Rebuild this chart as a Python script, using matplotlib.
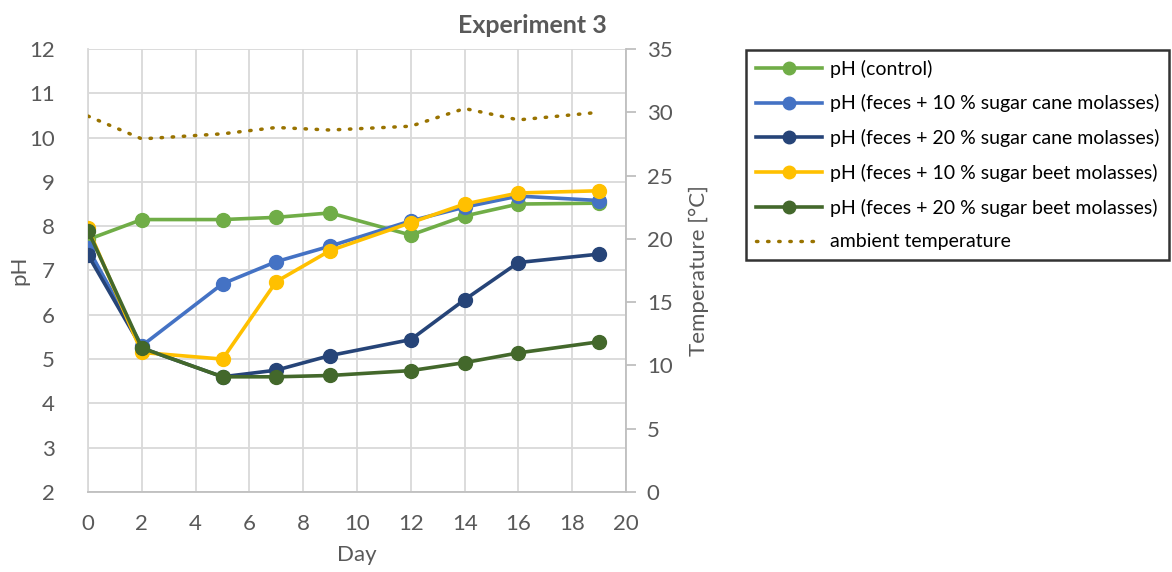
import matplotlib
matplotlib.use('Agg')
import matplotlib.pyplot as plt

plt.rcParams['font.family'] = ['Lato', 'DejaVu Sans']

days = [0, 2, 5, 7, 9, 12, 14, 16, 19]
ph_control = [7.7, 8.15, 8.15, 8.2, 8.3, 7.8, 8.23, 8.5, 8.52]
ph_cane10 = [7.5, 5.3, 6.7, 7.2, 7.55, 8.12, 8.43, 8.68, 8.58]
ph_cane20 = [7.35, 5.25, 4.6, 4.75, 5.08, 5.44, 6.34, 7.18, 7.37]
ph_beet10 = [7.95, 5.15, 5.0, 6.75, 7.45, 8.08, 8.5, 8.75, 8.8]
ph_beet20 = [7.9, 5.25, 4.6, 4.6, 4.63, 4.74, 4.92, 5.14, 5.39]
temperature = [29.7, 27.9, 28.3, 28.8, 28.6, 28.9, 30.3, 29.4, 30.0]

labels = ['pH (control)',
          'pH (feces + 10 % sugar cane molasses)',
          'pH (feces + 20 % sugar cane molasses)',
          'pH (feces + 10 % sugar beet molasses)',
          'pH (feces + 20 % sugar beet molasses)']
colors = ['#70AD47', '#4472C4', '#264478', '#FFC000', '#43682B']
temp_label = 'ambient temperature'
temp_color = '#997300'

txt = '#595959'
grid = '#D9D9D9'

fig = plt.figure(figsize=(11.72, 5.72), dpi=100)
ax = fig.add_axes([0.0751, 0.1399, 0.4590, 0.7744])
ax2 = ax.twinx()

handles = []
for series, lab, c in zip([ph_control, ph_cane10, ph_cane20, ph_beet10, ph_beet20], labels, colors):
    h, = ax.plot(days, series, color=c, lw=2.6, marker='o', markersize=10, label=lab, zorder=3)
    handles.append(h)

ht, = ax2.plot(days, temperature, color=temp_color, lw=2.5, linestyle=(0, (0.4, 2.8)),
               dash_capstyle='round', label=temp_label)
handles.append(ht)

ax.set_xlim(0, 20)
ax.set_ylim(2, 12)
ax.set_xticks(range(0, 21, 2))
ax.set_yticks(range(2, 13))
ax2.set_ylim(0, 35)
ax2.set_yticks(range(0, 36, 5))

ax.grid(True, color=grid, lw=1.3)
ax.set_axisbelow(True)
for a in (ax, ax2):
    for s in a.spines.values():
        s.set_visible(False)
ax.spines['left'].set_visible(True)
ax.spines['left'].set_color(grid)
ax.spines['left'].set_linewidth(1.3)
ax.spines['bottom'].set_visible(True)
ax.spines['bottom'].set_color('#BFBFBF')
ax.spines['bottom'].set_linewidth(1.3)
ax2.spines['right'].set_visible(True)
ax2.spines['right'].set_color('#BFBFBF')
ax2.spines['right'].set_linewidth(1.3)

ax.tick_params(axis='x', length=0, labelsize=16, labelcolor=txt, pad=16)
ax.tick_params(axis='y', length=0, labelsize=16, labelcolor=txt, pad=24)
ax2.tick_params(axis='y', length=7, width=1.3, color='#BFBFBF', direction='out',
                labelsize=16, labelcolor=txt, pad=8)

ax.set_xlabel('Day', fontsize=16, color=txt, labelpad=8)
ax.set_ylabel('pH', fontsize=16, color=txt, labelpad=0)
ax2.set_ylabel('Temperature [°C]', fontsize=16, color=txt, labelpad=12)

fig.text(0.454, 0.955, 'Experiment 3', fontsize=18, fontweight='bold', color=txt,
         ha='center', va='center')

leg = fig.legend(handles=handles, loc='upper left', bbox_to_anchor=(0.6365, 0.913),
                 fontsize=14, frameon=True, fancybox=False, handlelength=3.4,
                 handletextpad=0.4, labelspacing=0.86, borderpad=0.5, borderaxespad=0)
leg.get_frame().set_edgecolor('black')
leg.get_frame().set_linewidth(1.8)
for h in leg.legend_handles:
    if h.get_marker() == 'o':
        h.set_markersize(9)

fig.savefig('out.png', dpi=100)
